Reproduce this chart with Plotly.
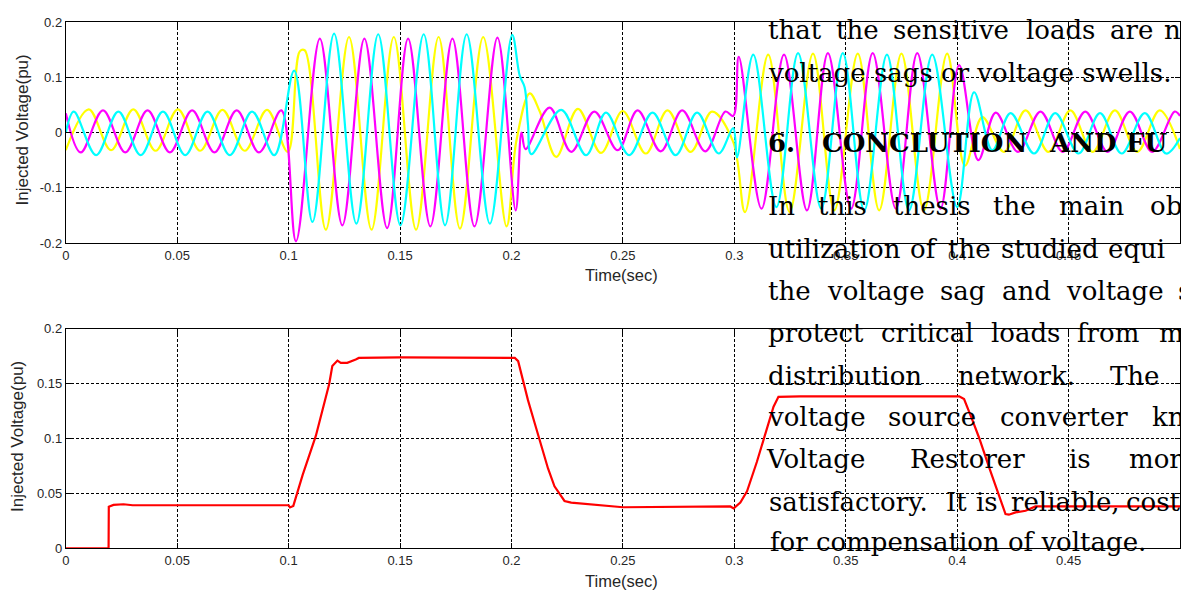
import plotly.graph_objects as go

W, H = 1181, 600

# ---------------- data ----------------
yellow_t = [0.0, 0.0103, 0.0203, 0.0303, 0.0403, 0.0503, 0.0603, 0.0703, 0.0803, 0.0903,
            0.0996, 0.1050, 0.1072, 0.1167, 0.1271, 0.1372, 0.1472, 0.1572, 0.1673, 0.1769,
            0.1873, 0.1978, 0.2022, 0.2082, 0.2127, 0.2201, 0.2298, 0.2402, 0.2499, 0.2603,
            0.2700, 0.2804, 0.2900, 0.2995, 0.3048, 0.3152, 0.3248, 0.3353, 0.3449, 0.3554,
            0.3650, 0.3750, 0.3851, 0.3955, 0.4035, 0.4113, 0.4210, 0.4307, 0.4410, 0.4508,
            0.4608, 0.4708, 0.4808, 0.4909, 0.5000]
yellow_v = [-0.032, 0.042, -0.032, 0.042, -0.033, 0.042, -0.033, 0.041, -0.033, 0.041,
            -0.035, 0.147, 0.149, -0.176, 0.173, -0.176, 0.173, -0.176, 0.173, -0.174,
            0.173, -0.170, -0.015, 0.071, 0.038, -0.044, 0.043, -0.037, 0.039, -0.038,
            0.040, -0.035, 0.038, -0.017, -0.144, 0.141, -0.144, 0.143, -0.141, 0.143,
            -0.141, 0.143, -0.141, 0.143, -0.060, 0.028, -0.035, 0.040, -0.035, 0.040,
            -0.035, 0.040, -0.035, 0.040, -0.030]

magenta_t = [0.0, 0.0067, 0.0167, 0.0267, 0.0367, 0.0467, 0.0567, 0.0667, 0.0767, 0.0867,
             0.0967, 0.1033, 0.1140, 0.1241, 0.1340, 0.1442, 0.1536, 0.1636, 0.1735, 0.1834,
             0.1937, 0.2019, 0.2045, 0.2063, 0.2171, 0.2268, 0.2372, 0.2477, 0.2566, 0.2670,
             0.2766, 0.2870, 0.2960, 0.2995, 0.3020, 0.3122, 0.3223, 0.3326, 0.3420, 0.3524,
             0.3621, 0.3725, 0.3821, 0.3925, 0.4009, 0.4095, 0.4173, 0.4273, 0.4374, 0.4474,
             0.4575, 0.4675, 0.4775, 0.4875, 0.4976, 0.5000]
magenta_v = [0.035, -0.036, 0.040, -0.036, 0.040, -0.036, 0.040, -0.036, 0.040, -0.036,
             0.040, -0.197, 0.170, -0.168, 0.170, -0.173, 0.170, -0.170, 0.170, -0.170,
             0.172, -0.141, 0.000, -0.030, 0.045, -0.035, 0.038, -0.032, 0.040, -0.034,
             0.040, -0.034, 0.038, 0.030, 0.137, -0.138, 0.141, -0.141, 0.144, -0.138,
             0.144, -0.138, 0.144, -0.138, 0.122, -0.050, 0.036, -0.035, 0.038, -0.035,
             0.038, -0.035, 0.038, -0.035, 0.038, 0.030]

cyan_t = [0.0, 0.0036, 0.0136, 0.0236, 0.0336, 0.0436, 0.0536, 0.0636, 0.0736, 0.0836,
          0.0936, 0.1025, 0.1107, 0.1204, 0.1304, 0.1402, 0.1502, 0.1606, 0.1702, 0.1799,
          0.1903, 0.2003, 0.2037, 0.2059, 0.2074, 0.2089, 0.2223, 0.2335, 0.2424, 0.2528,
          0.2633, 0.2737, 0.2833, 0.2930, 0.2995, 0.3012, 0.3085, 0.3189, 0.3286, 0.3390,
          0.3487, 0.3583, 0.3685, 0.3784, 0.3888, 0.4000, 0.4076, 0.4158, 0.4240, 0.4345,
          0.4440, 0.4545, 0.4641, 0.4738, 0.4842, 0.4938, 0.5000]
cyan_v = [0.000, 0.038, -0.041, 0.038, -0.041, 0.038, -0.041, 0.038, -0.041, 0.038,
          -0.041, 0.112, -0.162, 0.179, -0.165, 0.178, -0.168, 0.178, -0.168, 0.178,
          -0.165, 0.177, 0.103, 0.082, 0.015, -0.039, 0.041, -0.041, 0.036, -0.041,
          0.036, -0.041, 0.036, -0.038, 0.008, -0.045, 0.141, -0.135, 0.144, -0.138,
          0.144, -0.141, 0.141, -0.141, 0.141, -0.135, 0.073, -0.032, 0.035, -0.038,
          0.035, -0.038, 0.035, -0.038, 0.035, -0.038, -0.010]

red_t = [0.0, 0.0192, 0.0193, 0.0214, 0.0259, 0.0300, 0.1000, 0.1006, 0.1021, 0.1063,
         0.1122, 0.1182, 0.1196, 0.1219, 0.1234, 0.1263, 0.1301, 0.1315, 0.1500, 0.2015,
         0.2030, 0.2052, 0.2074, 0.2104, 0.2134, 0.2164, 0.2193, 0.2238, 0.2268, 0.2357,
         0.2446, 0.2500, 0.2982, 0.2997, 0.3027, 0.3057, 0.3101, 0.3146, 0.3176, 0.3198,
         0.3295, 0.4009, 0.4031, 0.4068, 0.4098, 0.4143, 0.4188, 0.4217, 0.4232, 0.4262,
         0.4307, 0.4351, 0.5000]
red_v = [0.0, 0.0, 0.0380, 0.0396, 0.0402, 0.0393, 0.0393, 0.0373, 0.0387, 0.0669,
         0.1024, 0.1497, 0.1660, 0.1710, 0.1690, 0.1690, 0.1720, 0.1734, 0.1740, 0.1734,
         0.1705, 0.1527, 0.1350, 0.1142, 0.0935, 0.0728, 0.0565, 0.0432, 0.0417, 0.0400,
         0.0380, 0.0375, 0.0382, 0.0364, 0.0417, 0.0520, 0.0787, 0.1083, 0.1290, 0.1380,
         0.1385, 0.1385, 0.1360, 0.1170, 0.1010, 0.0740, 0.0480, 0.0313, 0.0307, 0.0328,
         0.0343, 0.0382, 0.0382]

x_ticks = [0, 0.05, 0.1, 0.15, 0.2, 0.25, 0.3, 0.35, 0.4, 0.45, 0.5]
x_ticklabels = ["0", "0.05", "0.1", "0.15", "0.2", "0.25", "0.3", "0.35", "0.4", "0.45", "0.5"]
top_y_ticks = [-0.2, -0.1, 0, 0.1, 0.2]
top_y_labels = ["-0.2", "-0.1", "0", "0.1", "0.2"]
bot_y_ticks = [0, 0.05, 0.1, 0.15, 0.2]
bot_y_labels = ["0", "0.05", "0.1", "0.15", "0.2"]

# overlaid document text: (baseline y px, [(word, x px), ...], bold)
doc_lines = [
    (33, [("that", 765), ("the", 833), ("sensitive", 890), ("loads", 1023), ("are", 1108), ("n", 1162)], False),
    (77, [("voltage sags or voltage swells.", 765)], False),
    (148, [("6.", 765), ("CONCLUTION", 819), ("AND", 1047), ("FU", 1124)], True),
    (213, [("In", 765), ("this", 815), ("thesis", 890), ("the", 990), ("main", 1057), ("ob", 1148)], False),
    (257, [("utilization", 765), ("of", 907), ("the", 945), ("studied", 998), ("equi", 1106)], False),
    (300, [("the", 765), ("voltage", 824), ("sag", 937), ("and", 999), ("voltage", 1064), ("s", 1176)], False),
    (343, [("protect", 765), ("critical", 878), ("loads", 988), ("from", 1075), ("m", 1157)], False),
    (387, [("distribution", 765), ("network.", 955), ("The", 1108)], False),
    (430, [("voltage", 765), ("source", 885), ("converter", 997), ("kn", 1150)], False),
    (473, [("Voltage", 763), ("Restorer", 907), ("is", 1067), ("mor", 1127)], False),
    (517, [("satisfactory.", 766), ("It", 943), ("is", 973), ("reliable,", 1008), ("cost", 1124)], False),
    (558, [("for compensation of voltage.", 767)], False),
]

# ---------------- figure ----------------
PL, PR = 62, 1180
TOP_Y0, TOP_Y1 = 15.5, 242
BOT_Y0, BOT_Y1 = 330, 555.3

fig = go.Figure()
for t, v, c in [(yellow_t, yellow_v, "#FFFF00"), (magenta_t, magenta_v, "#FF00FF"), (cyan_t, cyan_v, "#00FFFF")]:
    fig.add_trace(go.Scatter(x=t, y=v, mode="lines", xaxis="x", yaxis="y",
                             line=dict(color=c, width=2.2, shape="spline", smoothing=1.0),
                             showlegend=False, hoverinfo="skip"))
fig.add_trace(go.Scatter(x=red_t, y=red_v, mode="lines", xaxis="x2", yaxis="y2",
                         line=dict(color="#FF0000", width=2.2), showlegend=False, hoverinfo="skip"))

tickfont = dict(family="Liberation Sans, Arial, sans-serif", size=13, color="#262626")
common_x = dict(range=[0, 0.5], tickmode="array", tickvals=x_ticks, ticktext=x_ticklabels,
                showgrid=True, gridcolor="#000000", gridwidth=1, griddash="3px,2px",
                zeroline=False, showline=True, linecolor="#000000", linewidth=1, mirror="ticks",
                ticks="inside", ticklen=5, tickcolor="#000000", tickfont=tickfont,
                domain=[PL / W, PR / W], fixedrange=True)
common_y = dict(tickmode="array", showgrid=True, gridcolor="#000000", gridwidth=1, griddash="3px,2px",
                zeroline=False, showline=True, linecolor="#000000", linewidth=1, mirror="ticks",
                ticks="inside", ticklen=5, tickcolor="#000000", tickfont=tickfont, fixedrange=True)

fig.update_layout(
    width=W, height=H, autosize=False,
    margin=dict(l=0, r=0, t=0, b=0, pad=0),
    paper_bgcolor="white", plot_bgcolor="white",
    xaxis=dict(**common_x, anchor="y"),
    yaxis=dict(**common_y, range=[-0.2, 0.2], tickvals=top_y_ticks, ticktext=top_y_labels,
               domain=[1 - TOP_Y1 / H, 1 - TOP_Y0 / H], anchor="x"),
    xaxis2=dict(**common_x, anchor="y2"),
    yaxis2=dict(**common_y, range=[0, 0.2], tickvals=bot_y_ticks, ticktext=bot_y_labels,
                domain=[1 - BOT_Y1 / H, 1 - BOT_Y0 / H], anchor="x2"),
)

anns = []
ytitlefont = dict(family="Liberation Sans, Arial, sans-serif", size=17, color="#262626")
xtitlefont = dict(family="Liberation Sans, Arial, sans-serif", size=16.5, color="#262626")
anns.append(dict(text="Injected Voltage(pu)", x=18.7 / W, y=1 - 126 / H, textangle=-90, font=ytitlefont))
anns.append(dict(text="Injected Voltage(pu)", x=14 / W, y=1 - 440 / H, textangle=-90, font=ytitlefont))
anns.append(dict(text="Time(sec)", x=620 / W, y=1 - 275 / H, font=xtitlefont))
anns.append(dict(text="Time(sec)", x=620 / W, y=1 - 589 / H, font=xtitlefont))
for a in anns:
    a.update(xref="paper", yref="paper", xanchor="center", yanchor="middle", showarrow=False)

for base, words, bold in doc_lines:
    size = 26
    yc = base - 0.346 * size
    for word, xp in words:
        anns.append(dict(text=f"<b>{word}</b>" if bold else word, x=xp / W, y=1 - yc / H,
                         xref="paper", yref="paper", xanchor="left", yanchor="middle",
                         showarrow=False,
                         font=dict(family="DejaVu Serif, serif", size=size, color="#000000")))

fig.update_layout(annotations=anns)
fig.write_html("out.html")
